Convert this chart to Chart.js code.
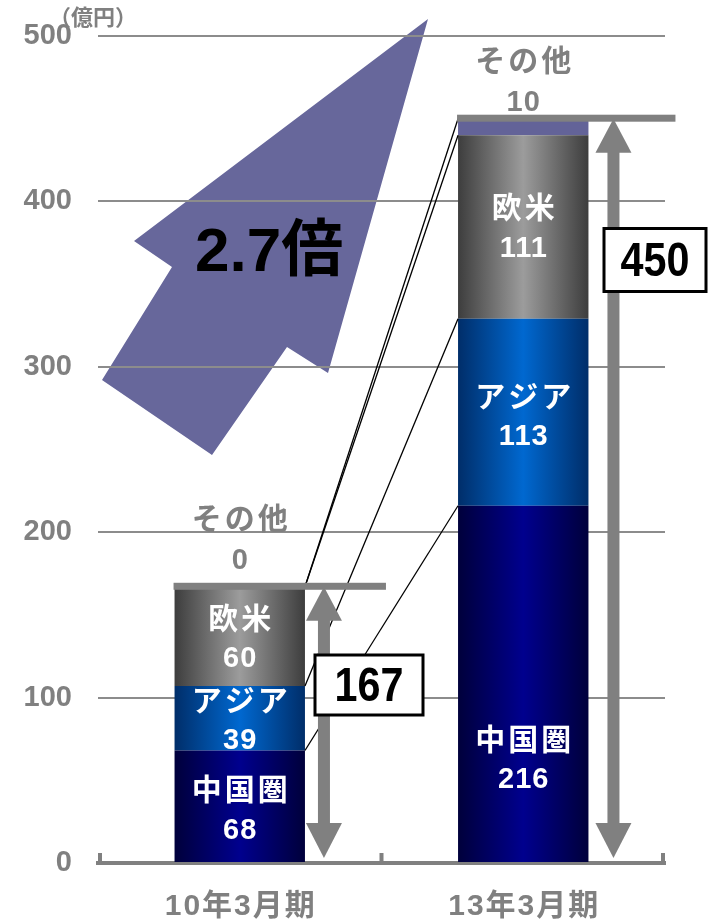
<!DOCTYPE html>
<html>
<head>
<meta charset="utf-8">
<script src="https://cdn.jsdelivr.net/npm/chart.js@4"></script>
<style>
    body { margin: 0; background: #fff; }
    #wrap { width: 709px; height: 924px; }
</style>
</head>
<body>
<div id="wrap"><canvas id="salesChart"></canvas></div>
<script>
// Data
const categories = ['10年3月期', '13年3月期'];
const seriesNames = ['中国圏', 'アジア', '欧米', 'その他'];
const chinaValues = [68, 216];
const asiaValues = [39, 113];
const westValues = [60, 111];
const otherValues = [0, 10];
const totals = [167, 450];
const yMin = 0;
const yMax = 500;
const yStep = 100;
const unitLabel = '（億円）';
const growthLabel = '2.7倍';

// Colors
const gray = '#808080';
const segmentColors = [
    { edge: '#00003a', mid: '#00008e' },
    { edge: '#002d68', mid: '#0068d0' },
    { edge: '#3c3c3c', mid: '#9c9c9c' },
    { edge: '#636398', mid: '#636398' }
];
const FONT = "'Liberation Sans', 'Noto Sans CJK JP', sans-serif";

function barFill(seriesIndex) {
    return (context) => {
        const c = segmentColors[seriesIndex];
        const chart = context.chart;
        const xScale = chart.scales.x;
        if (context.dataIndex === undefined || !xScale || !chart.chartArea) return c.mid;
        const center = xScale.getPixelForValue(context.dataIndex);
        const half = 66;
        const g = chart.ctx.createLinearGradient(center - half, 0, center + half, 0);
        g.addColorStop(0, c.edge);
        g.addColorStop(0.5, c.mid);
        g.addColorStop(1, c.edge);
        return g;
    };
}

function spacedText(ctx, text, x, y, spacing) {
    ctx.letterSpacing = spacing + 'px';
    ctx.fillText(text, x + spacing / 2, y);
    ctx.letterSpacing = '0px';
}

// Arrow behind the grid
const backdropPlugin = {
    id: 'backdrop',
    beforeDraw(chart) {
        const ctx = chart.ctx;
        ctx.save();
        ctx.fillStyle = '#67679b';
        ctx.beginPath();
        ctx.moveTo(428, 19);
        ctx.lineTo(328, 373);
        ctx.lineTo(287, 347);
        ctx.lineTo(212, 455);
        ctx.lineTo(102, 380);
        ctx.lineTo(172, 267);
        ctx.lineTo(134, 241);
        ctx.closePath();
        ctx.fill();
        ctx.restore();
    }
};

// Labels, connectors, total arrows
const annotatePlugin = {
    id: 'annotate',
    afterDatasetsDraw(chart) {
        const ctx = chart.ctx;
        const x = chart.scales.x;
        const y = chart.scales.y;
        const series = [chinaValues, asiaValues, westValues, otherValues];
        const barHalf = chart.getDatasetMeta(0).data[0].width / 2;

        ctx.save();

        // growth label
        ctx.fillStyle = '#000';
        ctx.font = 'bold 62px ' + FONT;
        ctx.textAlign = 'left';
        ctx.textBaseline = 'alphabetic';
        ctx.fillText(growthLabel, 195, 271);

        // connector lines between segment tops
        ctx.strokeStyle = '#000';
        ctx.lineWidth = 1.3;
        let cumA = 0, cumB = 0;
        series.forEach((vals) => {
            cumA += vals[0];
            cumB += vals[1];
            ctx.beginPath();
            ctx.moveTo(x.getPixelForValue(0) + barHalf, y.getPixelForValue(cumA));
            ctx.lineTo(x.getPixelForValue(1) - barHalf, y.getPixelForValue(cumB));
            ctx.stroke();
        });

        // in-bar labels
        ctx.fillStyle = '#fff';
        ctx.textAlign = 'center';
        ctx.textBaseline = 'middle';
        const nudge = [[4, 76], [3, 5], [3, 2]];
        categories.forEach((cat, i) => {
            let base = 0;
            for (let s = 0; s < 3; s++) {
                const v = series[s][i];
                const cy = (y.getPixelForValue(base) + y.getPixelForValue(base + v)) / 2 + nudge[s][i];
                const cx = x.getPixelForValue(i);
                ctx.font = 'bold 30px ' + FONT;
                spacedText(ctx, seriesNames[s], cx, cy - 19, 3);
                ctx.font = 'bold 29px ' + FONT;
                spacedText(ctx, String(v), cx, cy + 20, 1);
                base += v;
            }
        });

        // totals: cap line, double arrow, "other" label
        const otherNudge = [-5, 5];
        const arrowGap = [22, 28];
        categories.forEach((cat, i) => {
            const cx = x.getPixelForValue(i);
            const top = y.getPixelForValue(totals[i]);
            const bottom = y.getPixelForValue(0) - 5;
            const ax = cx + barHalf + arrowGap[i] - 3;
            ctx.fillStyle = gray;
            ctx.fillRect(cx - barHalf - 1, top - 4, barHalf * 2 + arrowGap[i] + 60, 7);
            ctx.fillRect(ax - 6, top + 30, 12, bottom - top - 60);
            ctx.beginPath();
            ctx.moveTo(ax, top);
            ctx.lineTo(ax + 18, top + 34);
            ctx.lineTo(ax - 18, top + 34);
            ctx.closePath();
            ctx.fill();
            ctx.beginPath();
            ctx.moveTo(ax, bottom);
            ctx.lineTo(ax + 18, bottom - 35);
            ctx.lineTo(ax - 18, bottom - 35);
            ctx.closePath();
            ctx.fill();

            ctx.font = 'bold 30px ' + FONT;
            ctx.fillStyle = gray;
            spacedText(ctx, seriesNames[3], cx, top - 61 + otherNudge[i], 3);
            ctx.font = 'bold 29px ' + FONT;
            spacedText(ctx, String(otherValues[i]), cx, top - 21 + otherNudge[i], 1);
        });

        // boxed totals
        const boxes = [
            { cx: 369, cy: 685, w: 108, h: 60 },
            { cx: 655, cy: 260, w: 102, h: 63 }
        ];
        boxes.forEach((b, i) => {
            ctx.fillStyle = '#fff';
            ctx.fillRect(b.cx - b.w / 2, b.cy - b.h / 2, b.w, b.h);
            ctx.strokeStyle = '#000';
            ctx.lineWidth = 3;
            ctx.strokeRect(b.cx - b.w / 2, b.cy - b.h / 2, b.w, b.h);
            ctx.fillStyle = '#000';
            ctx.font = 'bold 48px ' + FONT;
            ctx.save();
            ctx.translate(b.cx, b.cy + 3);
            ctx.scale(0.86, 1);
            ctx.fillText(String(totals[i]), 0, 0);
            ctx.restore();
        });

        ctx.restore();
    },
    afterDraw(chart) {
        const ctx = chart.ctx;
        const x = chart.scales.x;
        const area = chart.chartArea;
        ctx.save();
        // category boundary ticks
        ctx.fillStyle = gray;
        const mid = (x.getPixelForValue(0) + x.getPixelForValue(1)) / 2;
        [area.left + 2, mid, area.right - 2].forEach((tx) => {
            ctx.fillRect(tx - 2, area.bottom - 10, 4, 10);
        });
        // category labels
        ctx.font = 'bold 30px ' + FONT;
        ctx.textAlign = 'center';
        ctx.textBaseline = 'middle';
        categories.forEach((cat, i) => {
            spacedText(ctx, cat, x.getPixelForValue(i), 907, 2);
        });
        // unit
        ctx.font = 'bold 22px ' + FONT;
        ctx.fillText(unitLabel, 93, 19);
        ctx.restore();
    }
};

const datasets = [chinaValues, asiaValues, westValues, otherValues].map((vals, s) => ({
    label: seriesNames[s],
    data: vals,
    backgroundColor: barFill(s),
    borderWidth: 0,
    barPercentage: 0.46,
    categoryPercentage: 1
}));

new Chart(document.getElementById('salesChart'), {
    type: 'bar',
    data: { labels: categories, datasets: datasets },
    options: {
        responsive: true,
        maintainAspectRatio: false,
        animation: false,
        devicePixelRatio: 1,
        layout: { padding: { left: 0, top: 36, right: 44, bottom: 61 } },
        plugins: {
            legend: { display: false },
            tooltip: { enabled: false }
        },
        scales: {
            x: {
                stacked: true,
                grid: { display: false },
                border: { display: true, color: gray, width: 4 },
                ticks: { display: false },
                afterFit: (scale) => { scale.height = 0; }
            },
            y: {
                stacked: true,
                min: yMin,
                max: yMax,
                ticks: {
                    stepSize: yStep,
                    color: gray,
                    padding: 26,
                    font: { family: FONT, size: 29, weight: 'bold' }
                },
                grid: { color: '#8c8c8c', lineWidth: 2, drawTicks: false },
                border: { display: false },
                afterFit: (scale) => {
                    scale.width = 98;
                    scale.paddingTop = 0;
                    scale.paddingBottom = 0;
                }
            }
        }
    },
    plugins: [backdropPlugin, annotatePlugin]
});
</script>
</body>
</html>
